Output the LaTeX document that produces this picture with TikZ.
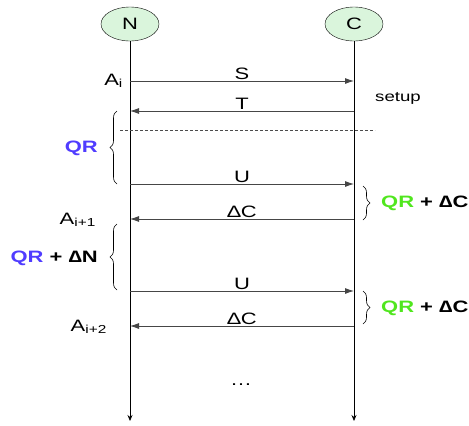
\documentclass[tikz,border=0pt]{standalone}
\usepackage{fontspec}
\setmainfont{Liberation Sans}[FakeStretch=1.33]
\usetikzlibrary{arrows.meta,decorations.pathreplacing,shapes.geometric}
\definecolor{qrblue}{RGB}{80,60,255}
\definecolor{qrgreen}{RGB}{80,230,30}
\definecolor{entfill}{RGB}{218,245,220}
\definecolor{linegray}{RGB}{70,70,70}
\begin{document}
\begin{tikzpicture}[x=1pt,y=-1pt,
  every node/.style={font=\fontsize{16.5}{18}\selectfont},
  entity/.style={ellipse,draw=black,fill=entfill,minimum width=58pt,minimum height=34pt,inner sep=0pt},
  life/.style={draw=black,line width=0.7pt,-{Stealth[length=6pt,width=5pt]}},
  msg/.style={draw=linegray,line width=0.8pt,-{Latex[length=9pt,width=6pt]}},
  brc/.style={draw=black,line width=0.6pt,decorate,decoration={brace,amplitude=7pt}},
  lbl/.style={inner sep=1pt},
  bold/.style={font=\fontsize{16.5}{18}\selectfont\bfseries}
]
\useasboundingbox (0,0) rectangle (469,426);
\node[entity] (N) at (130,24) {N};
\node[entity] (C) at (354,24) {C};
\coordinate (Nend) at (130,421);
\coordinate (Cend) at (354,421);
\draw[life] (N) -- (Nend);
\draw[life] (C) -- (Cend);
% message anchors
\coordinate (n1) at (130,81);  \coordinate (c1) at (354,81);
\coordinate (n2) at (130,111); \coordinate (c2) at (354,111);
\coordinate (n3) at (130,184); \coordinate (c3) at (354,184);
\coordinate (n4) at (130,219); \coordinate (c4) at (354,219);
\coordinate (n5) at (130,291); \coordinate (c5) at (354,291);
\coordinate (n6) at (130,326); \coordinate (c6) at (354,326);
\draw[msg] (n1) -- node[above,lbl] (S) {S} (c1);
\draw[msg] (c2) -- node[above,lbl] (T) {T} (n2);
\draw[msg] (n3) -- node[above,lbl] (U1) {U} (c3);
\draw[msg] (c4) -- node[above,lbl] (D1) {∆C} (n4);
\draw[msg] (n5) -- node[above,lbl] (U2) {U} (c5);
\draw[msg] (c6) -- node[above,lbl] (D2) {∆C} (n6);
% dashed separator
\coordinate (dl) at (120,130); \coordinate (dr) at (375,130);
\draw[densely dashed,line width=0.4pt,draw=black!70] (dl) -- (dr);
% labels
\node[anchor=east,inner sep=0pt] (Ai) at (123,81) {A\textsubscript{i}};
\node[anchor=east,inner sep=0pt] (Ai1) at (96,220) {A\textsubscript{i+1}};
\node[anchor=east,inner sep=0pt] (Ai2) at (107,327) {A\textsubscript{i+2}};
\node[anchor=west,inner sep=0pt,font=\fontsize{14}{16}\selectfont] (setup) at (375,98) {setup};
\node (dots) at (241,385) {\dots};
% braces
\coordinate (lb1b) at (117,184); \coordinate (lb1t) at (117,111);
\draw[brc] (lb1b) -- (lb1t);
\node[anchor=east,inner sep=0pt,text=qrblue,bold] (qr1) at (98,148) {QR};
\coordinate (rb1t) at (363,186); \coordinate (rb1b) at (363,220);
\draw[brc] (rb1t) -- (rb1b);
\node[anchor=west,inner sep=0pt,bold] (qr2) at (381,203) {\textcolor{qrgreen}{QR} + ∆C};
\coordinate (lb2b) at (117,290); \coordinate (lb2t) at (117,224);
\draw[brc] (lb2b) -- (lb2t);
\node[anchor=east,inner sep=0pt,bold] (qr3) at (98,258) {\textcolor{qrblue}{QR} + ∆N};
\coordinate (rb2t) at (363,291); \coordinate (rb2b) at (363,324);
\draw[brc] (rb2t) -- (rb2b);
\node[anchor=west,inner sep=0pt,bold] (qr4) at (381,308) {\textcolor{qrgreen}{QR} + ∆C};
\end{tikzpicture}
\end{document}
